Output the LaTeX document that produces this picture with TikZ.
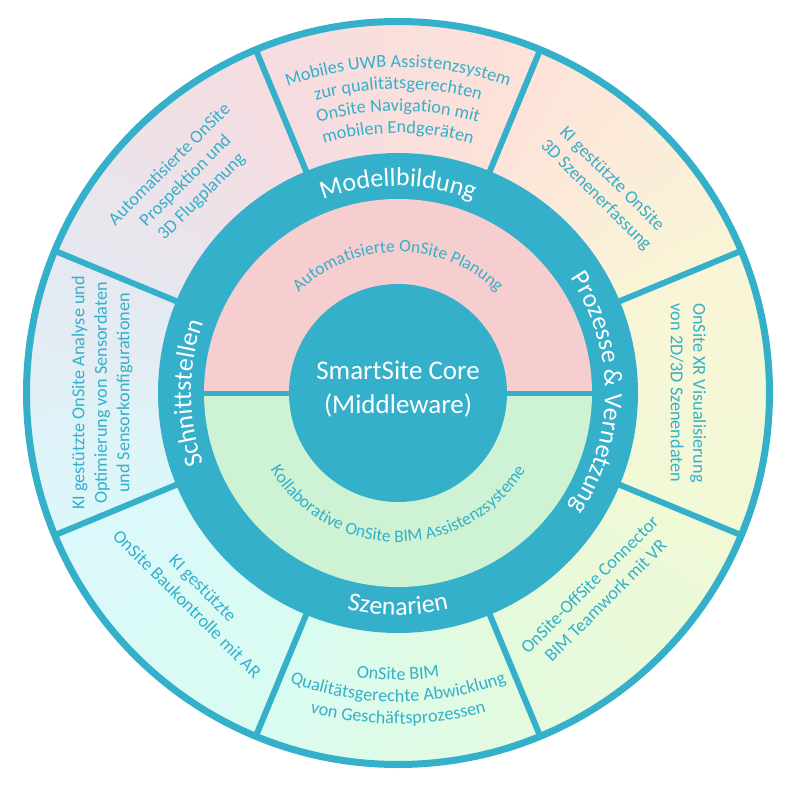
\documentclass[tikz,border=0pt]{standalone}
\usepackage{fontspec}
\setmainfont{Carlito}
\usetikzlibrary{decorations.text}

\definecolor{ssteal}{HTML}{34B0CB}
\definecolor{topfill}{HTML}{F6CECF}
\definecolor{botfill}{HTML}{CDF3D4}
% ring colours at the dividers
\definecolor{cA}{HTML}{F0F9D6}
\definecolor{cB}{HTML}{FAF5D7}
\definecolor{cC}{HTML}{FDE2DA}
\definecolor{cD}{HTML}{F6DCE0}
\definecolor{cE}{HTML}{E6E8F0}
\definecolor{cF}{HTML}{DBF8FB}
\definecolor{cG}{HTML}{D9FCF1}
\definecolor{cH}{HTML}{E3FADD}

\newcommand\ringfont{\fontsize{26}{30}\selectfont}
\newcommand\segfont{\fontsize{18.2}{22.5}\selectfont}
\newcommand\halffont{\fontsize{17.5}{20}\selectfont}

\tikzset{
  arctext/.style n args={3}{decorate, decoration={text along path, text align=center, text color=#1, text={|#2|#3}}},
  segtext/.style={font=\segfont, text=ssteal, align=center},
  divider/.style={draw=ssteal, line width=6pt}
}

\begin{document}
\begin{tikzpicture}[x=1pt, y=1pt]
\useasboundingbox (-398,-400) rectangle (403,393);

% outer ring segments
\foreach \s/\ca/\cb in {-22.5/cA/cB, 22.5/cB/cC, 67.5/cC/cD, 112.5/cD/cE,
                        157.5/cE/cF, 202.5/cF/cG, 247.5/cG/cH, 292.5/cH/cA}
  \foreach \k in {0,...,8} {
    \pgfmathsetmacro\a{\s+5*\k}
    \pgfmathsetmacro\b{\a+5.5}
    \pgfmathtruncatemacro\p{100*(\k+0.5)/9}
    \fill[fill={\cb!\p!\ca}] (\a:240) arc[start angle=\a, end angle=\b, radius=240]
      -- (\b:373) arc[start angle=\b, end angle=\a, radius=373] -- cycle;
  }

\draw[ssteal, line width=7pt] (0,0) circle[radius=371.5];
\foreach \d in {22.5,67.5,...,337.5}
  \draw[divider] (\d:238) -- (\d:372);

% middle ring and halves
\fill[ssteal] (0,0) circle[radius=240];
\fill[topfill] (194,0) arc[start angle=0, end angle=180, radius=194] -- cycle;
\fill[botfill] (-194,0) arc[start angle=180, end angle=360, radius=194] -- cycle;
\draw[ssteal, line width=5pt] (-196,0) -- (196,0);

\node[circle, fill=ssteal, minimum size=218pt, inner sep=0pt] (core) at (0,0) {};
\node[text=white, align=center, font=\fontsize{27}{34}\selectfont] (coretext) at (0,4) {SmartSite Core\\(Middleware)};

% ring labels
\path[arctext={white}{\ringfont}{Modellbildung}] (130:207) arc[start angle=130, end angle=50, radius=207];
\path[arctext={white}{\ringfont}{Prozesse {\&} Vernetzung}] (55:207) arc[start angle=55, end angle=-55, radius=207];
\path[arctext={white}{\ringfont}{Schnittstellen}] (230:207) arc[start angle=230, end angle=130, radius=207];
\path[arctext={white}{\ringfont}{Szenarien}] (230:222) arc[start angle=230, end angle=310, radius=222];

% half labels
\path[arctext={ssteal}{\halffont}{Automatisierte OnSite Planung}] (170:141) arc[start angle=170, end angle=10, radius=141];
\path[arctext={ssteal}{\halffont}{Kollaborative OnSite BIM Assistenzsysteme}] (190:149) arc[start angle=190, end angle=350, radius=149];

% top and bottom segments
\path[arctext={ssteal}{\segfont}{Mobiles UWB Assistenzsystem}] (125:326) arc[start angle=125, end angle=55, radius=326];
\path[arctext={ssteal}{\segfont}{zur qualitätsgerechten}] (125:304) arc[start angle=125, end angle=55, radius=304];
\path[arctext={ssteal}{\segfont}{OnSite Navigation mit}] (125:282) arc[start angle=125, end angle=55, radius=282];
\path[arctext={ssteal}{\segfont}{mobilen Endgeräten}] (125:260) arc[start angle=125, end angle=55, radius=260];

\path[arctext={ssteal}{\segfont}{OnSite BIM}] (235:287) arc[start angle=235, end angle=305, radius=287];
\path[arctext={ssteal}{\segfont}{Qualitätsgerechte Abwicklung}] (235:309) arc[start angle=235, end angle=305, radius=309];
\path[arctext={ssteal}{\segfont}{von Geschäftsprozessen}] (235:331) arc[start angle=235, end angle=305, radius=331];

% side segments
\node[segtext, rotate=-90] (segE) at (0:290) {OnSite XR Visualisierung\\von 2D/3D Szenendaten};
\node[segtext, rotate=-45] (segNE) at (45:291) {KI gestützte OnSite\\3D Szenenerfassung};
\node[segtext, rotate=45] (segNW) at (135:300) {Automatisierte OnSite\\Prospektion und\\3D Flugplanung};
\node[segtext, rotate=90] (segW) at (180:296) {KI gestützte OnSite Analyse und\\Optimierung von Sensordaten\\und Sensorkonfigurationen};
\node[segtext, rotate=-45] (segSW) at (225:287) {KI gestützte\\OnSite Baukontrolle mit AR};
\node[segtext, rotate=45] (segSE) at (315:282) {OnSite-OffSite Connector\\BIM Teamwork mit VR};
\end{tikzpicture}
\end{document}
